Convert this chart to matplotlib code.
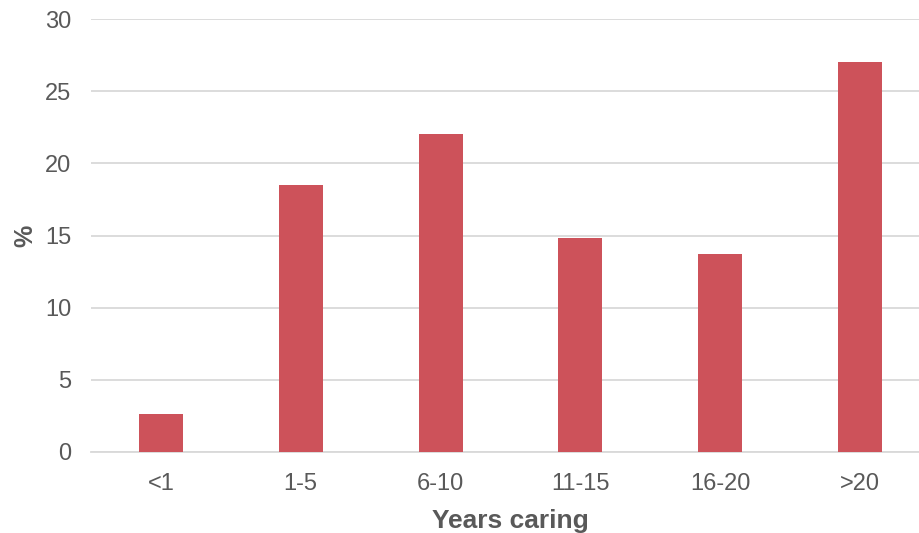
import matplotlib
matplotlib.use("Agg")
import matplotlib.pyplot as plt

categories = ["<1", "1-5", "6-10", "11-15", "16-20", ">20"]
percent = [2.6, 18.5, 22.0, 14.8, 13.7, 27.0]
yticks = [0, 5, 10, 15, 20, 25, 30]

plt.rcParams["font.family"] = ["Liberation Sans", "DejaVu Sans"]

fig = plt.figure(figsize=(9.2, 5.33), dpi=100)
ax = fig.add_axes([91 / 920, 81 / 533, 839 / 920, 433 / 533])

x = range(len(categories))
ax.bar(x, percent, width=0.315, color="#CD525A", zorder=3)

ax.set_xlim(-0.5, len(categories) - 0.5)
ax.set_ylim(0, 30)
ax.set_yticks(yticks)
ax.set_xticks(list(x))
ax.set_xticklabels(categories)

ax.grid(axis="y", color="#D9D9D9", linewidth=1.3, zorder=0)
for side in ["top", "right", "left"]:
    ax.spines[side].set_visible(False)
ax.spines["bottom"].set_color("#D9D9D9")
ax.spines["bottom"].set_linewidth(1.3)

ax.tick_params(axis="both", length=0, labelsize=17, labelcolor="#595959")
ax.tick_params(axis="y", pad=14)
ax.tick_params(axis="x", pad=15)

ax.set_xlabel("Years caring", fontsize=19, fontweight="bold", color="#595959", labelpad=10)
ax.set_ylabel("%", fontsize=18, fontweight="bold", color="#595959", labelpad=6)

fig.savefig("out.png", dpi=100)
